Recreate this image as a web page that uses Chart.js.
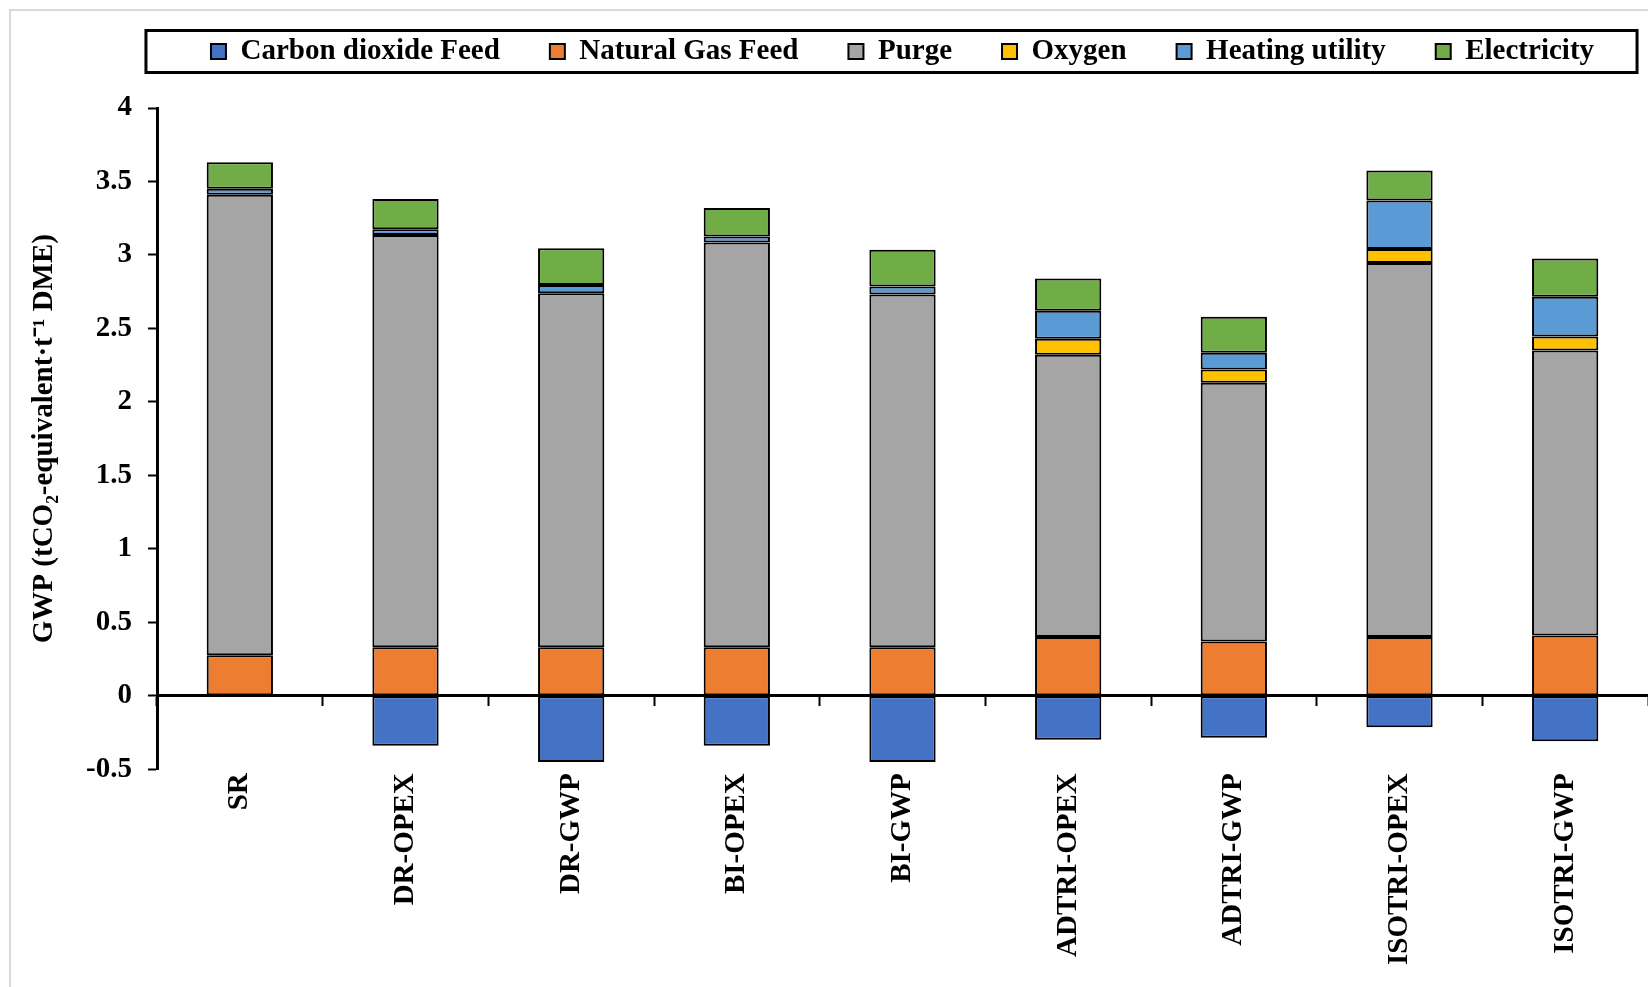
<!DOCTYPE html>
<html>
<head>
<meta charset="utf-8">
<script src="https://cdn.jsdelivr.net/npm/chart.js@4.4.1/dist/chart.umd.min.js"></script>
<style>
  html, body { margin: 0; padding: 0; background: #ffffff; }
  #wrap { position: relative; width: 1648px; height: 987px; overflow: hidden; }
  #frame { position: absolute; left: 9px; top: 9px; width: 1700px; height: 1100px;
           border-left: 2px solid #d9d9d9; border-top: 2px solid #d9d9d9; }
  canvas { position: absolute; left: 0; top: 0; }
</style>
</head>
<body>
<div id="wrap">
  <div id="frame"></div>
  <canvas id="gwp" width="1648" height="987"></canvas>
</div>
<script>
// Process configurations
const categories = ['SR', 'DR-OPEX', 'DR-GWP', 'BI-OPEX', 'BI-GWP', 'ADTRI-OPEX', 'ADTRI-GWP', 'ISOTRI-OPEX', 'ISOTRI-GWP'];

// GWP contributions, tCO2-eq per t DME
const carbonDioxideFeed = [0, -0.34, -0.45, -0.34, -0.45, -0.30, -0.285, -0.215, -0.31];
const naturalGasFeed    = [0.275, 0.33, 0.33, 0.33, 0.33, 0.40, 0.37, 0.40, 0.41];
const purge             = [3.135, 2.805, 2.41, 2.755, 2.40, 1.92, 1.76, 2.545, 1.94];
const oxygen            = [0, 0, 0, 0, 0, 0.11, 0.09, 0.095, 0.095];
const heatingUtility    = [0.04, 0.04, 0.055, 0.04, 0.055, 0.19, 0.115, 0.33, 0.27];
const electricity       = [0.18, 0.205, 0.25, 0.195, 0.25, 0.22, 0.245, 0.205, 0.26];

const yTicks = [-0.5, 0, 0.5, 1, 1.5, 2, 2.5, 3, 3.5, 4];

const FONT = "'Liberation Serif', 'Times New Roman', serif";

function series(label, data, color) {
  return {
    label: label,
    data: data,
    backgroundColor: color,
    borderColor: '#000000',
    borderWidth: 2,
    borderSkipped: false,
    barPercentage: 0.4,
    categoryPercentage: 1.0,
    stack: 'gwp'
  };
}

// Black frame around the legend row
const legendFrame = {
  id: 'legendFrame',
  afterDraw(chart) {
    const lg = chart.legend;
    if (!lg || !lg.legendHitBoxes || !lg.legendHitBoxes.length) return;
    const boxes = lg.legendHitBoxes;
    let minX = Infinity, maxX = -Infinity, minY = Infinity, maxY = -Infinity;
    boxes.forEach(b => {
      minX = Math.min(minX, b.left);
      maxX = Math.max(maxX, b.left + b.width);
      minY = Math.min(minY, b.top);
      maxY = Math.max(maxY, b.top + b.height);
    });
    const cy = (minY + maxY) / 2;
    const ctx = chart.ctx;
    ctx.save();
    ctx.strokeStyle = '#000000';
    ctx.lineWidth = 3;
    ctx.strokeRect(minX - 65, cy - 21, (maxX - minX) + 108, 42);
    ctx.restore();
  }
};

new Chart(document.getElementById('gwp'), {
  type: 'bar',
  data: {
    labels: categories,
    datasets: [
      series('Carbon dioxide Feed', carbonDioxideFeed, '#4472C4'),
      series('Natural Gas Feed', naturalGasFeed, '#ED7D31'),
      series('Purge', purge, '#A5A5A5'),
      series('Oxygen', oxygen, '#FFC000'),
      series('Heating utility', heatingUtility, '#5B9BD5'),
      series('Electricity', electricity, '#70AD47')
    ]
  },
  options: {
    responsive: false,
    animation: false,
    devicePixelRatio: 1,
    layout: { padding: { top: -13, left: 27, right: -7, bottom: 18 } },
    plugins: {
      tooltip: { enabled: false },
      legend: {
        display: true,
        position: 'top',
        fullSize: false,
        labels: {
          color: '#000000',
          font: { family: FONT, size: 29, weight: 'bold' },
          boxWidth: 15,
          boxHeight: 15,
          padding: 50
        }
      },
      // blank spacer between the legend and the plot
      title: {
        display: true,
        text: ' ',
        position: 'top',
        weight: 500,
        fullSize: false,
        font: { size: 10 },
        padding: { top: 0, bottom: 20 }
      }
    },
    scales: {
      x: {
        stacked: true,
        grid: { display: false, drawTicks: false },
        border: { display: false },
        ticks: {
          color: '#000000',
          font: { family: FONT, size: 29, weight: 'bold' },
          minRotation: 90,
          maxRotation: 90,
          autoSkip: false,
          padding: 4
        }
      },
      zeroAxis: {
        type: 'category',
        axis: 'x',
        labels: categories,
        position: { y: 0 },
        offset: true,
        z: 1,
        grid: {
          offset: true,
          drawOnChartArea: false,
          drawTicks: true,
          tickLength: 9,
          tickWidth: 2,
          tickColor: '#000000',
          color: '#000000'
        },
        border: { display: true, color: '#000000', width: 3 },
        ticks: { display: false }
      },
      y: {
        stacked: true,
        min: -0.5,
        max: 4,
        afterFit(scale) { scale.width = 130; },
        afterBuildTicks(scale) { scale.ticks = yTicks.map(v => ({ value: v })); },
        ticks: {
          color: '#000000',
          font: { family: FONT, size: 29, weight: 'bold' },
          padding: 16,
          callback: v => String(v)
        },
        grid: {
          drawOnChartArea: false,
          drawTicks: true,
          tickLength: 9,
          tickWidth: 2,
          tickColor: '#000000'
        },
        border: { display: true, color: '#000000', width: 3 },
        title: {
          display: true,
          text: 'GWP (tCO₂-equivalent·t⁻¹ DME)',
          color: '#000000',
          font: { family: FONT, size: 29, weight: 'bold' },
          padding: { top: 0, bottom: 0 }
        }
      }
    }
  },
  plugins: [legendFrame]
});
</script>
</body>
</html>
